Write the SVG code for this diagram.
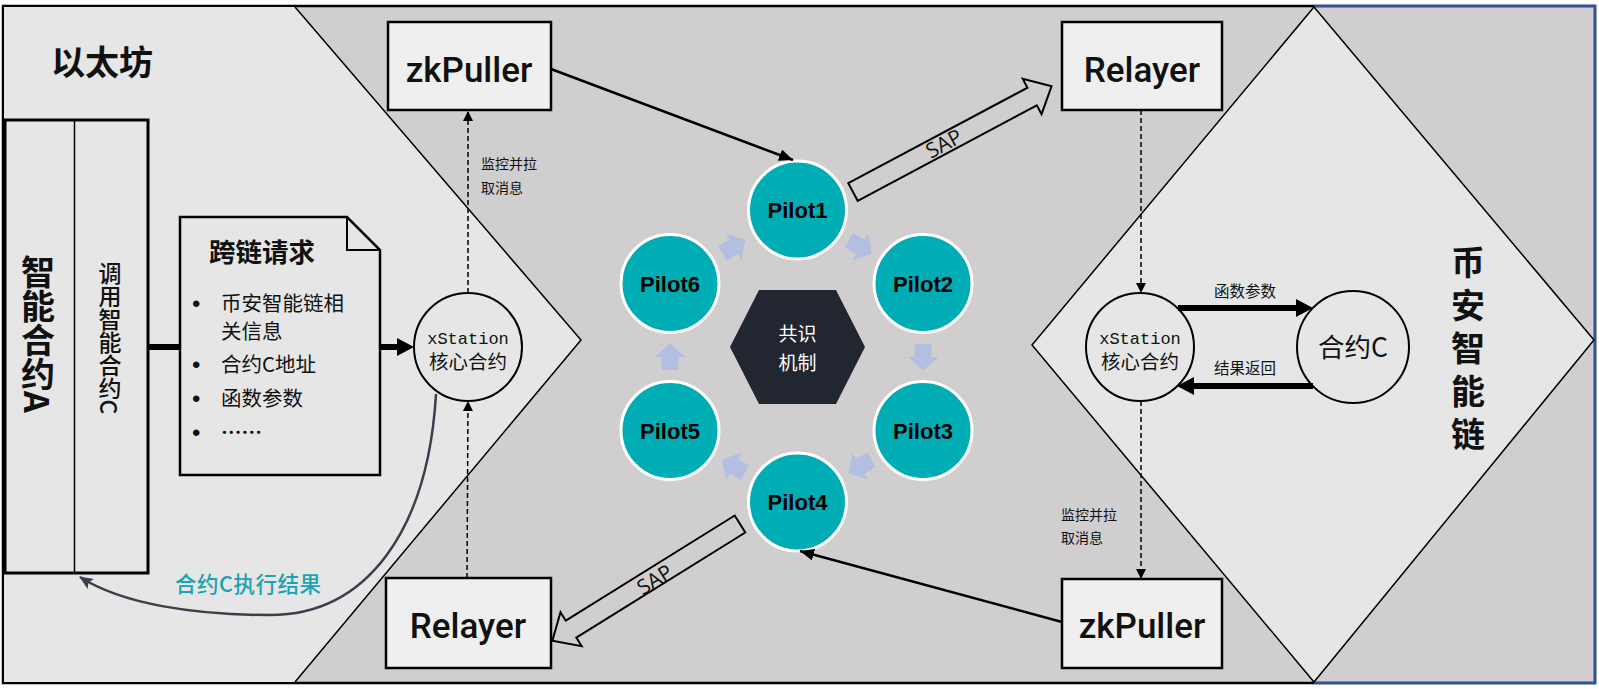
<svg xmlns="http://www.w3.org/2000/svg" width="1599" height="689" viewBox="0 0 1599 689">
<style>
.cjk{font-family:"Noto Sans CJK SC","Liberation Sans",sans-serif;}
.box{fill:#efefef;stroke:#000;stroke-width:2.5;}
.boxt{font-family:Roboto,"Liberation Sans",sans-serif;font-weight:500;font-size:35px;text-anchor:middle;fill:#111;}
.pilot{fill:#00adb5;stroke:#fff;stroke-width:3;}
.pt{font-family:"Liberation Sans",Arial,sans-serif;font-weight:bold;font-size:22px;text-anchor:middle;fill:#000;}
.dash{fill:none;stroke:#000;stroke-width:1.5;stroke-dasharray:5 3;}
.small{font-size:14px;fill:#111;}
.chev{fill:#b3bfe0;}
.xs{font-family:"Liberation Mono","Courier New",monospace;font-size:17px;text-anchor:middle;fill:#111;}
.xc{font-size:19.5px;text-anchor:middle;fill:#111;}
.sap{fill:none;stroke:#000;stroke-width:2;}
.sapt{font-family:"Open Sans","Liberation Sans",sans-serif;font-size:21px;text-anchor:middle;fill:#111;}
.bul{font-family:"Liberation Sans",Arial,sans-serif;font-size:24px;fill:#111;}
</style>
<defs>
<marker id="mThin" markerUnits="userSpaceOnUse" markerWidth="14" markerHeight="12" refX="14" refY="6" orient="auto"><path d="M0,0 L14,6 L0,12 z" fill="#000"/></marker>
<marker id="mDash" markerUnits="userSpaceOnUse" markerWidth="10" markerHeight="10" refX="10" refY="5" orient="auto"><path d="M0,0 L10,5 L0,10 z" fill="#000"/></marker>
<marker id="mThick" markerUnits="userSpaceOnUse" markerWidth="17" markerHeight="18" refX="0" refY="9" orient="auto"><path d="M0,0 L17,9 L0,18 z" fill="#000"/></marker>
<marker id="mCurve" markerUnits="userSpaceOnUse" markerWidth="14" markerHeight="12" refX="13" refY="6" orient="auto"><path d="M0,0 L14,6 L0,12 L3,6 z" fill="#3a3f4c"/></marker>
<polygon id="chev" points="-13,-8.5 0,-8.5 0,-15.5 13.5,0 0,15.5 0,8.5 -13,8.5"/>
</defs>

<g id="background">
<rect x="3" y="6" width="1592" height="677" fill="#d0cecf" stroke="#000" stroke-width="2.5"/>
<polyline points="1314,6 1595,6 1595,683 1314,683" fill="none" stroke="#2f5597" stroke-width="2.5"/>
<polygon points="4,7 295,7 581,340 295,682 4,682" fill="#e6e6e6"/>
<polyline points="295,7 581,340 295,682" fill="none" stroke="#000" stroke-width="1.5"/>
<polygon points="1314,7 1594,340 1314,682 1032,345" fill="#e6e6e6" stroke="#000" stroke-width="1.5"/>
</g>

<g id="eth-label"><text class="cjk" x="51" y="75" font-size="34" font-weight="bold" fill="#111">以太坊</text></g>

<g id="contractA">
<rect x="5" y="120" width="143" height="453" fill="#e6e6e6" stroke="#000" stroke-width="3"/>
<line x1="74.5" y1="120" x2="74.5" y2="573" stroke="#000" stroke-width="1.5"/>
<text class="cjk" x="38" y="334" font-size="34" font-weight="bold" text-anchor="middle" fill="#111" style="writing-mode:vertical-rl">智能合约A</text>
<text class="cjk" x="110" y="338" font-size="23" font-weight="500" text-anchor="middle" fill="#111" style="writing-mode:vertical-rl">调用智能合约C</text>
</g>

<g id="request">
<path d="M180,217 L347,217 L380,250 L380,475 L180,475 z" fill="#e6e6e6" stroke="#000" stroke-width="2.5"/>
<path d="M347,217 L347,250 L380,250" fill="none" stroke="#000" stroke-width="2"/>
<text class="cjk" x="209" y="262" font-size="26.5" font-weight="bold" fill="#111">跨链请求</text>
<g class="bul">
<text x="192" y="312">•</text>
<text x="192" y="373">•</text>
<text x="192" y="407">•</text>
<text x="192" y="441">•</text>
</g>
<g class="cjk" font-size="20.5" fill="#111">
<text x="221" y="311">币安智能链相</text>
<text x="221" y="339">关信息</text>
<text x="221" y="372">合约C地址</text>
<text x="221" y="406">函数参数</text>
<text x="221" y="440" font-weight="bold">……</text>
</g>
</g>

<g id="xstation-eth">
<circle cx="468" cy="347" r="54" fill="#e6e6e6" stroke="#000" stroke-width="2"/>
<text class="xs" x="468" y="344">xStation</text>
<text class="cjk xc" x="468" y="369">核心合约</text>
</g>

<g id="zkpuller-eth"><rect class="box" x="388" y="22" width="163" height="88"/><text class="boxt" x="469" y="82">zkPuller</text></g>
<g id="relayer-eth"><rect class="box" x="386" y="578" width="165" height="90"/><text class="boxt" x="468" y="638">Relayer</text></g>
<g id="relayer-bsc"><rect class="box" x="1062" y="22" width="160" height="88"/><text class="boxt" x="1142" y="82">Relayer</text></g>
<g id="zkpuller-bsc"><rect class="box" x="1062" y="579" width="160" height="89"/><text class="boxt" x="1142" y="638">zkPuller</text></g>

<g id="consensus">
<polygon points="730,347 759,290 836,290 865,347 836,404 759,404" fill="#222631"/>
<text class="cjk" font-size="19" fill="#fff" text-anchor="middle"><tspan x="797.5" y="341">共识</tspan><tspan x="797.5" y="370">机制</tspan></text>
</g>

<g id="pilot1"><circle class="pilot" cx="797.5" cy="210" r="49"/><text class="pt" x="797.5" y="218">Pilot1</text></g>
<g id="pilot2"><circle class="pilot" cx="923" cy="283.5" r="49"/><text class="pt" x="923" y="291.5">Pilot2</text></g>
<g id="pilot3"><circle class="pilot" cx="923" cy="430.5" r="49"/><text class="pt" x="923" y="438.5">Pilot3</text></g>
<g id="pilot4"><circle class="pilot" cx="797.5" cy="502" r="49"/><text class="pt" x="797.5" y="510">Pilot4</text></g>
<g id="pilot5"><circle class="pilot" cx="670" cy="430.5" r="49"/><text class="pt" x="670" y="438.5">Pilot5</text></g>
<g id="pilot6"><circle class="pilot" cx="670" cy="283.5" r="49"/><text class="pt" x="670" y="291.5">Pilot6</text></g>

<g id="xstation-bsc">
<circle cx="1140" cy="347" r="54" fill="#e6e6e6" stroke="#000" stroke-width="2"/>
<text class="xs" x="1140" y="344">xStation</text>
<text class="cjk xc" x="1140" y="369">核心合约</text>
</g>
<g id="contractC">
<circle cx="1353" cy="347" r="56" fill="#e6e6e6" stroke="#000" stroke-width="2"/>
<text class="cjk" x="1353" y="357" font-size="26.5" text-anchor="middle" fill="#111">合约C</text>
</g>

<g id="bsc-label">
<text class="cjk" x="1468" y="353" font-size="34" font-weight="bold" fill="#111" text-anchor="middle" letter-spacing="9" style="writing-mode:vertical-rl">币安智能链</text>
</g>

<g id="connectors">
<use href="#chev" class="chev" transform="translate(733.75,246.75) rotate(-30)"/>
<use href="#chev" class="chev" transform="translate(860.25,246.75) rotate(30)"/>
<use href="#chev" class="chev" transform="translate(923,357) rotate(90)"/>
<use href="#chev" class="chev" transform="translate(860.25,466.25) rotate(150)"/>
<use href="#chev" class="chev" transform="translate(733.75,466.25) rotate(210)"/>
<use href="#chev" class="chev" transform="translate(670,357) rotate(270)"/>

<line x1="148" y1="347" x2="180" y2="347" stroke="#000" stroke-width="6"/>
<line x1="380" y1="347" x2="397" y2="347" stroke="#000" stroke-width="6" marker-end="url(#mThick)"/>

<line class="dash" x1="468" y1="293" x2="468" y2="111" marker-end="url(#mDash)"/>
<line class="dash" x1="467" y1="578" x2="468" y2="401" marker-end="url(#mDash)"/>
<line class="dash" x1="1141" y1="110" x2="1141" y2="293" marker-end="url(#mDash)"/>
<line class="dash" x1="1141" y1="401" x2="1141" y2="579" marker-end="url(#mDash)"/>
<text class="cjk small" x="481" y="169">监控并拉</text>
<text class="cjk small" x="481" y="193">取消息</text>
<text class="cjk small" x="1061" y="520">监控并拉</text>
<text class="cjk small" x="1061" y="543">取消息</text>

<line x1="551" y1="69" x2="793" y2="160" stroke="#000" stroke-width="2.5" marker-end="url(#mThin)"/>
<line x1="1062" y1="622" x2="800" y2="551" stroke="#000" stroke-width="2.5" marker-end="url(#mThin)"/>

<g transform="translate(853,192) rotate(-28.05)">
<polygon class="sap" points="0,-10 203,-10 203,-20 225,0 203,20 203,10 0,10"/>
</g>
<text class="sapt" transform="translate(944,144) rotate(-28)" y="7">SAP</text>
<g transform="translate(740,524) rotate(148.1)">
<polygon class="sap" points="0,-10 199,-10 199,-20 221,0 199,20 199,10 0,10"/>
</g>
<text class="sapt" transform="translate(655,580) rotate(-31.9)" y="7">SAP</text>

<line x1="1178" y1="308" x2="1296" y2="308" stroke="#000" stroke-width="6" marker-end="url(#mThick)"/>
<text class="cjk" x="1245" y="297" font-size="15.5" text-anchor="middle" fill="#111">函数参数</text>
<line x1="1313" y1="386" x2="1194" y2="386" stroke="#000" stroke-width="6" marker-end="url(#mThick)"/>
<text class="cjk" x="1245" y="374" font-size="15.5" text-anchor="middle" fill="#111">结果返回</text>

<path d="M436,394 C428,530 367,615 270,615 C194,615 122,604 80,577" fill="none" stroke="#3a3f4c" stroke-width="2.5" marker-end="url(#mCurve)"/>
<text class="cjk" x="175" y="592" font-size="21.5" font-weight="500" fill="#1aa3b5" letter-spacing="0.5">合约C执行结果</text>
</g>
</svg>
